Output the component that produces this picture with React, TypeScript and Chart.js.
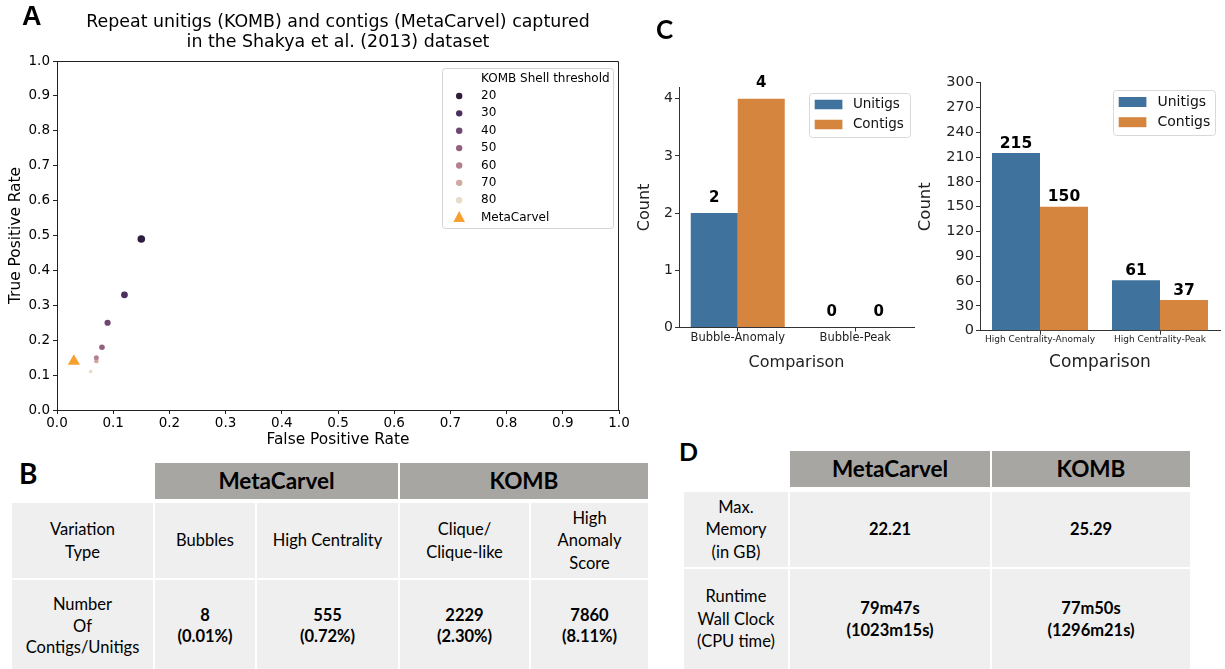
import React, { useEffect, useRef } from "react";
import { Chart, registerables } from "chart.js";

Chart.register(...registerables);

// ---------------- Data ----------------
const scatterTitle = [
  "Repeat unitigs (KOMB) and contigs (MetaCarvel) captured",
  "in the Shakya et al. (2013) dataset",
];
const shellLegendTitle = "KOMB Shell threshold";
const shellThresholds = ["20", "30", "40", "50", "60", "70", "80"];
const shellFpr = [0.15, 0.12, 0.09, 0.08, 0.07, 0.07, 0.06];
const shellTpr = [0.49, 0.33, 0.25, 0.18, 0.15, 0.14, 0.11];
const metaCarvelLabel = "MetaCarvel";
const metaCarvelFpr = [0.03];
const metaCarvelTpr = [0.14];

const seriesNames = ["Unitigs", "Contigs"];
const bubbleCategories = ["Bubble-Anomaly", "Bubble-Peak"];
const bubbleUnitigs = [2, 0];
const bubbleContigs = [4, 0];
const bubbleTicks = [0, 1, 2, 3, 4];
const centralityCategories = ["High Centrality-Anomaly", "High Centrality-Peak"];
const centralityUnitigs = [215, 61];
const centralityContigs = [150, 37];
const centralityTicks = [0, 30, 60, 90, 120, 150, 180, 210, 240, 270, 300];

const tableBGroups = ["MetaCarvel", "KOMB"];
const tableBRowLabels = ["Variation\nType", "Number\nOf\nContigs/Unitigs"];
const tableBVariation = ["Bubbles", "High Centrality", "Clique/\nClique-like", "High\nAnomaly\nScore"];
const tableBCounts = ["8\n(0.01%)", "555\n(0.72%)", "2229\n(2.30%)", "7860\n(8.11%)"];

const tableDTools = ["MetaCarvel", "KOMB"];
const tableDRowLabels = ["Max.\nMemory\n(in GB)", "Runtime\nWall Clock\n(CPU time)"];
const tableDMemory = ["22.21", "25.29"];
const tableDRuntime = ["79m47s\n(1023m15s)", "77m50s\n(1296m21s)"];

// ---------------- Styles ----------------
const DEJAVU = "'DejaVu Sans', sans-serif";
const TABLE_FONT = "Lato, 'Open Sans', sans-serif";
const shellColors = ["#2d1e3e", "#4b2f5c", "#6f4670", "#94607f", "#b5808e", "#d2a8a2", "#eadac8"];
const shellRadii = [3.8, 3.4, 3.1, 2.8, 2.5, 2.2, 1.8];
const TRI_COLOR = "#f5a02f";
const BLUE = "#3f729c";
const ORANGE = "#d6853f";
const HEAD_BG = "#a8a6a3";
const CELL_BG = "#efefef";

Chart.defaults.font.family = DEJAVU;

// ---------------- Plugins ----------------
const framePlugin = {
  id: "frame",
  afterDatasetsDraw(chart: any) {
    const { ctx, chartArea: a } = chart;
    ctx.save();
    ctx.strokeStyle = "#222";
    ctx.lineWidth = 1;
    const l = Math.round(a.left) + 0.5;
    const t = Math.round(a.top) + 0.5;
    const r = Math.round(a.right) - 0.5;
    const b = Math.round(a.bottom) + 0.5;
    ctx.beginPath();
    ctx.moveTo(l, t);
    ctx.lineTo(r, t);
    ctx.lineTo(r, b);
    ctx.stroke();
    ctx.restore();
  },
};

function roundRect(ctx: any, x: number, y: number, w: number, h: number, r: number) {
  ctx.beginPath();
  ctx.moveTo(x + r, y);
  ctx.lineTo(x + w - r, y);
  ctx.quadraticCurveTo(x + w, y, x + w, y + r);
  ctx.lineTo(x + w, y + h - r);
  ctx.quadraticCurveTo(x + w, y + h, x + w - r, y + h);
  ctx.lineTo(x + r, y + h);
  ctx.quadraticCurveTo(x, y + h, x, y + h - r);
  ctx.lineTo(x, y + r);
  ctx.quadraticCurveTo(x, y, x + r, y);
  ctx.closePath();
}

const shellLegendPlugin = {
  id: "shellLegend",
  afterDraw(chart: any) {
    const { ctx, chartArea: a } = chart;
    const w = 171;
    const h = 160;
    const x0 = Math.round(a.right - 6.5 - w) + 0.5;
    const y0 = Math.round(a.top + 6.5) + 0.5;
    ctx.save();
    roundRect(ctx, x0, y0, w, h, 3);
    ctx.fillStyle = "rgba(255,255,255,0.85)";
    ctx.fill();
    ctx.strokeStyle = "#d4d4d4";
    ctx.lineWidth = 1;
    ctx.stroke();
    ctx.font = `12px ${DEJAVU}`;
    ctx.textAlign = "left";
    ctx.textBaseline = "middle";
    ctx.fillStyle = "#000";
    ctx.fillText(shellLegendTitle, x0 + 38.5, y0 + 10);
    chart.data.datasets.forEach((ds: any, i: number) => {
      const y = y0 + 27.5 + i * 17.37;
      const mx = x0 + 16.7;
      ctx.fillStyle = ds.backgroundColor;
      if (ds.pointStyle === "triangle") {
        ctx.beginPath();
        ctx.moveTo(mx, y - 6.5);
        ctx.lineTo(mx + 5.8, y + 4.5);
        ctx.lineTo(mx - 5.8, y + 4.5);
        ctx.closePath();
        ctx.fill();
      } else {
        ctx.beginPath();
        ctx.arc(mx, y, 3.2, 0, Math.PI * 2);
        ctx.fill();
      }
      ctx.fillStyle = "#000";
      ctx.fillText(ds.label, x0 + 38.5, y);
    });
    ctx.restore();
  },
};

function makeValueLabels(offset: number, size: number) {
  return {
    id: "valueLabels",
    afterDatasetsDraw(chart: any) {
      const { ctx } = chart;
      ctx.save();
      ctx.font = `bold ${size}px ${DEJAVU}`;
      ctx.fillStyle = "#000";
      ctx.textAlign = "center";
      ctx.textBaseline = "middle";
      chart.data.datasets.forEach((ds: any, di: number) => {
        const meta = chart.getDatasetMeta(di);
        meta.data.forEach((el: any, i: number) => {
          ctx.fillText(String(ds.data[i]), el.x, el.y - offset);
        });
      });
      ctx.restore();
    },
  };
}

type BoxLegendOpts = {
  w: number; h: number; rightGap: number; topGap: number;
  patchX: number; patchW: number; patchH: number; textX: number;
  rows: number[]; size: number;
};

function makeBoxLegend(o: BoxLegendOpts) {
  return {
    id: "boxLegend",
    afterDraw(chart: any) {
      const { ctx, chartArea: a } = chart;
      const x0 = Math.round(a.right - o.rightGap - o.w) + 0.5;
      const y0 = Math.round(a.top + o.topGap) + 0.5;
      ctx.save();
      roundRect(ctx, x0, y0, o.w, o.h, 3);
      ctx.fillStyle = "rgba(255,255,255,0.85)";
      ctx.fill();
      ctx.strokeStyle = "#d8d8d8";
      ctx.lineWidth = 1;
      ctx.stroke();
      ctx.font = `${o.size}px ${DEJAVU}`;
      ctx.textAlign = "left";
      ctx.textBaseline = "middle";
      chart.data.datasets.forEach((ds: any, i: number) => {
        const y = y0 + o.rows[i];
        ctx.fillStyle = ds.backgroundColor;
        ctx.fillRect(x0 + o.patchX, y - o.patchH / 2, o.patchW, o.patchH);
        ctx.fillStyle = "#111";
        ctx.fillText(ds.label, x0 + o.textX, y);
      });
      ctx.restore();
    },
  };
}

// ---------------- Chart configs ----------------
function scatterConfig() {
  const datasets: any[] = shellThresholds.map((label, i) => ({
    label,
    data: [{ x: shellFpr[i], y: shellTpr[i] }],
    backgroundColor: shellColors[i],
    borderColor: shellColors[i],
    borderWidth: 0,
    pointRadius: shellRadii[i],
    pointStyle: "circle",
  }));
  datasets.push({
    label: metaCarvelLabel,
    data: metaCarvelFpr.map((x, i) => ({ x, y: metaCarvelTpr[i] })),
    backgroundColor: TRI_COLOR,
    borderColor: TRI_COLOR,
    borderWidth: 0,
    pointRadius: 7,
    pointStyle: "triangle",
  });
  const axisCommon = {
    type: "linear",
    min: 0,
    max: 1,
    grid: { drawOnChartArea: false, tickLength: 4, color: "#222" },
    border: { color: "#222" },
  };
  return {
    type: "scatter",
    data: { datasets },
    options: {
      responsive: false,
      animation: false,
      devicePixelRatio: 1,
      layout: { padding: { left: 0, right: 21, top: 0, bottom: 0 } },
      plugins: {
        legend: { display: false },
        tooltip: { enabled: false },
        title: {
          display: true,
          text: scatterTitle,
          fullSize: false,
          color: "#000",
          font: { family: DEJAVU, size: 17.4, weight: "normal", lineHeight: 1.13 },
          padding: { top: 13, bottom: 8.7 },
        },
      },
      scales: {
        x: {
          ...axisCommon,
          ticks: {
            stepSize: 0.1,
            autoSkip: false,
            maxRotation: 0,
            padding: 1,
            color: "#000",
            font: { size: 13.5 },
            callback: (v: any) => Number(v).toFixed(1),
          },
          title: {
            display: true,
            text: "False Positive Rate",
            color: "#000",
            font: { size: 15.4 },
            padding: { top: 0, bottom: 1 },
          },
          afterFit: (s: any) => {
            s.height = 40;
          },
        },
        y: {
          ...axisCommon,
          ticks: {
            stepSize: 0.1,
            autoSkip: false,
            padding: 3,
            color: "#000",
            font: { size: 13.5 },
            callback: (v: any) => Number(v).toFixed(1),
          },
          title: {
            display: true,
            text: "True Positive Rate",
            color: "#000",
            font: { size: 15.4 },
            padding: { top: 7, bottom: 0 },
          },
          afterFit: (s: any) => {
            s.width = 57;
          },
        },
      },
    },
    plugins: [framePlugin, shellLegendPlugin],
  };
}

type BarSpec = {
  categories: string[];
  unitigs: number[];
  contigs: number[];
  ticks: number[];
  yMax: number;
  yWidth: number;
  xHeight: number;
  padTop: number;
  padRight: number;
  yTickSize: number;
  xTickSize: number;
  yTitleSize: number;
  yTitlePad: number;
  xTitleSize: number;
  xTitlePad: number;
  labelOffset: number;
  labelSize: number;
  legend: BoxLegendOpts;
};

function barConfig(s: BarSpec) {
  return {
    type: "bar",
    data: {
      labels: s.categories,
      datasets: [
        { label: seriesNames[0], data: s.unitigs, backgroundColor: BLUE, borderWidth: 0 },
        { label: seriesNames[1], data: s.contigs, backgroundColor: ORANGE, borderWidth: 0 },
      ],
    },
    options: {
      responsive: false,
      animation: false,
      devicePixelRatio: 1,
      categoryPercentage: 0.8,
      barPercentage: 1.0,
      layout: { padding: { left: 0, right: s.padRight, top: s.padTop, bottom: 0 } },
      plugins: {
        legend: { display: false },
        tooltip: { enabled: false },
        title: { display: false },
      },
      scales: {
        x: {
          grid: { drawOnChartArea: false, offset: false, tickLength: 4, color: "#333" },
          border: { display: true, color: "#333" },
          ticks: { padding: 0, color: "#222", font: { size: s.xTickSize }, maxRotation: 0, autoSkip: false },
          title: {
            display: true,
            text: "Comparison",
            color: "#222",
            font: { size: s.xTitleSize },
            padding: { top: 0, bottom: s.xTitlePad },
          },
          afterFit: (sc: any) => {
            sc.height = s.xHeight;
          },
        },
        y: {
          min: 0,
          max: s.yMax,
          grid: { drawOnChartArea: false, tickLength: 4, color: "#333" },
          border: { display: true, color: "#333" },
          ticks: { padding: 2, color: "#222", font: { size: s.yTickSize }, autoSkip: false },
          afterBuildTicks: (sc: any) => {
            sc.ticks = s.ticks.map((v) => ({ value: v }));
          },
          title: {
            display: true,
            text: "Count",
            color: "#222",
            font: { size: s.yTitleSize },
            padding: { top: s.yTitlePad, bottom: 0 },
          },
          afterFit: (sc: any) => {
            sc.width = s.yWidth;
          },
        },
      },
    },
    plugins: [makeValueLabels(s.labelOffset, s.labelSize), makeBoxLegend(s.legend)],
  };
}

// ---------------- Components ----------------
function ChartCanvas(props: { left: number; top: number; width: number; height: number; make: () => any }) {
  const ref = useRef<HTMLCanvasElement | null>(null);
  useEffect(() => {
    if (!ref.current) return;
    const chart = new Chart(ref.current, props.make());
    return () => chart.destroy();
  }, []);
  return (
    <canvas
      ref={ref}
      width={props.width}
      height={props.height}
      style={{ position: "absolute", left: props.left, top: props.top, width: props.width, height: props.height }}
    />
  );
}

function Cell(props: {
  x: number; y: number; w: number; h: number; bg: string; text: string;
  bold?: boolean; size: number; lh?: number; pt?: number;
}) {
  return (
    <div
      style={{
        position: "absolute",
        left: props.x,
        top: props.y,
        width: props.w,
        height: props.h,
        background: props.bg,
        display: "flex",
        alignItems: "center",
        justifyContent: "center",
        textAlign: "center",
        boxSizing: "border-box",
        paddingTop: props.pt ?? 0,
        fontFamily: TABLE_FONT,
        fontSize: props.size,
        fontWeight: props.bold ? 700 : 400,
        lineHeight: `${props.lh ?? 22.5}px`,
        color: "#000",
        whiteSpace: "pre-line",
      }}
    >
      {props.text}
    </div>
  );
}

function Letter(props: { x: number; y: number; size: number; text: string; family: string }) {
  return (
    <div
      style={{
        position: "absolute",
        left: props.x,
        top: props.y,
        fontFamily: props.family,
        fontWeight: 700,
        fontSize: props.size,
        lineHeight: 1,
        color: "#000",
      }}
    >
      {props.text}
    </div>
  );
}

function TableB() {
  const colX = [12, 155, 257, 400, 531];
  const colW = [141, 100, 141, 129, 117];
  const rowY = [503, 580];
  const rowH = [75, 89];
  return (
    <>
      <Cell x={155} y={463} w={243} h={36} bg={HEAD_BG} text={tableBGroups[0]} bold size={22.5} />
      <Cell x={400} y={463} w={248} h={36} bg={HEAD_BG} text={tableBGroups[1]} bold size={22.5} />
      <Cell x={colX[0]} y={rowY[0]} w={colW[0]} h={rowH[0]} bg={CELL_BG} text={tableBRowLabels[0]} size={16.5} />
      <Cell x={colX[0]} y={rowY[1]} w={colW[0]} h={rowH[1]} bg={CELL_BG} text={tableBRowLabels[1]} size={16.5} pt={4} lh={21.7} />
      {tableBVariation.map((t, i) => (
        <Cell key={"v" + i} x={colX[i + 1]} y={rowY[0]} w={colW[i + 1]} h={rowH[0]} bg={CELL_BG} text={t} size={16.5} />
      ))}
      {tableBCounts.map((t, i) => (
        <Cell key={"c" + i} x={colX[i + 1]} y={rowY[1]} w={colW[i + 1]} h={rowH[1]} bg={CELL_BG} text={t} bold size={16.5} pt={2} lh={21} />
      ))}
    </>
  );
}

function TableD() {
  const colX = [684, 790, 992];
  const colW = [104, 200, 198];
  const rowY = [492, 569];
  const rowH = [75, 100];
  return (
    <>
      {tableDTools.map((t, i) => (
        <Cell key={"h" + i} x={colX[i + 1]} y={451} w={colW[i + 1]} h={36} bg={HEAD_BG} text={t} bold size={22.5} />
      ))}
      <Cell x={colX[0]} y={rowY[0]} w={colW[0]} h={rowH[0]} bg={CELL_BG} text={tableDRowLabels[0]} size={16.5} />
      <Cell x={colX[0]} y={rowY[1]} w={colW[0]} h={rowH[1]} bg={CELL_BG} text={tableDRowLabels[1]} size={16.5} />
      {tableDMemory.map((t, i) => (
        <Cell key={"m" + i} x={colX[i + 1]} y={rowY[0]} w={colW[i + 1]} h={rowH[0]} bg={CELL_BG} text={t} bold size={16.5} />
      ))}
      {tableDRuntime.map((t, i) => (
        <Cell key={"r" + i} x={colX[i + 1]} y={rowY[1]} w={colW[i + 1]} h={rowH[1]} bg={CELL_BG} text={t} bold size={16.5} />
      ))}
    </>
  );
}

export default function App() {
  const leftBar: BarSpec = {
    categories: bubbleCategories,
    unitigs: bubbleUnitigs,
    contigs: bubbleContigs,
    ticks: bubbleTicks,
    yMax: 4.2,
    yWidth: 49,
    xHeight: 52.5,
    padTop: 47.3,
    padRight: 6,
    yTickSize: 14,
    xTickSize: 11.5,
    yTitleSize: 16,
    yTitlePad: 5.4,
    xTitleSize: 16,
    xTitlePad: 7.7,
    labelOffset: 15.5,
    labelSize: 15,
    legend: { w: 101, h: 44, rightGap: 4, topGap: 6, patchX: 5.2, patchW: 27.7, patchH: 9.5, textX: 43.4, rows: [11, 31], size: 13.5 },
  };
  const rightBar: BarSpec = {
    categories: centralityCategories,
    unitigs: centralityUnitigs,
    contigs: centralityContigs,
    ticks: centralityTicks,
    yMax: 300,
    yWidth: 70,
    xHeight: 49.3,
    padTop: 42.7,
    padRight: 5,
    yTickSize: 14.5,
    xTickSize: 9,
    yTitleSize: 16.5,
    yTitlePad: 6,
    xTitleSize: 17,
    xTitlePad: 6.8,
    labelOffset: 9.3,
    labelSize: 15.5,
    legend: { w: 102, h: 45, rightGap: 5, topGap: 7.3, patchX: 5.2, patchW: 27.7, patchH: 10, textX: 44, rows: [11.5, 31.7], size: 14 },
  };
  return (
    <div style={{ position: "absolute", left: 0, top: 0, width: 1225, height: 669, background: "#fff", overflow: "hidden" }}>
      <ChartCanvas left={0} top={0} width={640} height={450} make={scatterConfig} />
      <ChartCanvas left={630} top={40} width={290} height={340} make={() => barConfig(leftBar)} />
      <ChartCanvas left={910} top={40} width={315} height={340} make={() => barConfig(rightBar)} />
      <TableB />
      <TableD />
      <Letter x={22} y={3} size={27} text="A" family="'Liberation Sans', Arial, sans-serif" />
      <Letter x={19} y={459} size={28} text="B" family={TABLE_FONT} />
      <Letter x={656} y={16} size={26} text="C" family={TABLE_FONT} />
      <Letter x={679} y={439} size={25} text="D" family={TABLE_FONT} />
    </div>
  );
}
